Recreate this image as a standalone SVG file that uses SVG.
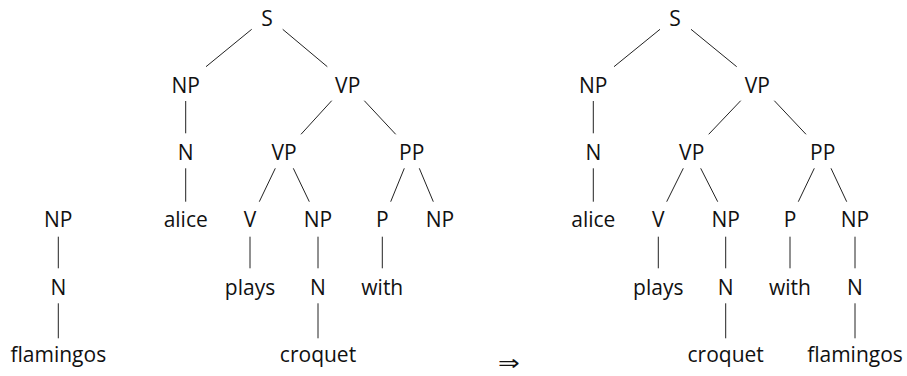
<svg xmlns="http://www.w3.org/2000/svg" width="907" height="376" viewBox="0 0 907 376">
  <style>
    text { font-family: "Open Sans", "Lato", sans-serif; font-size: 21px; fill: #111; text-anchor: middle; }
    .edge { stroke: #222; stroke-width: 1; fill: none; }
  </style>
  <rect width="907" height="376" fill="#fff"/>

  <!-- small tree: NP -> N -> flamingos -->
  <g id="sub-np"><text x="58.3" y="227">NP</text></g>
  <g id="sub-n"><text x="58.3" y="295">N</text></g>
  <g id="sub-flamingos"><text x="58.3" y="362">flamingos</text></g>

  <!-- first tree -->
  <g id="t1-s"><text x="267" y="26">S</text></g>
  <g id="t1-np"><text x="185.7" y="93">NP</text></g>
  <g id="t1-vp"><text x="347.7" y="93">VP</text></g>
  <g id="t1-n"><text x="185.7" y="160">N</text></g>
  <g id="t1-vp2"><text x="284" y="160">VP</text></g>
  <g id="t1-pp"><text x="411.7" y="160">PP</text></g>
  <g id="t1-alice"><text x="185.7" y="227">alice</text></g>
  <g id="t1-v"><text x="250" y="227">V</text></g>
  <g id="t1-np2"><text x="318" y="227">NP</text></g>
  <g id="t1-p"><text x="382.3" y="227">P</text></g>
  <g id="t1-np3"><text x="440" y="227">NP</text></g>
  <g id="t1-plays"><text x="250" y="295">plays</text></g>
  <g id="t1-n2"><text x="318" y="295">N</text></g>
  <g id="t1-with"><text x="382.3" y="295">with</text></g>
  <g id="t1-croquet"><text x="318" y="362">croquet</text></g>

  <!-- rewrite arrow, flattened a little -->
  <g id="arrow" transform="translate(509,370) scale(1,0.8)"><text x="0" y="0" style="font-family: 'DejaVu Sans', sans-serif; font-size: 26px;">⇒</text></g>

  <!-- second tree -->
  <g id="t2-s"><text x="675" y="26">S</text></g>
  <g id="t2-np"><text x="593.3" y="93">NP</text></g>
  <g id="t2-vp"><text x="757.3" y="93">VP</text></g>
  <g id="t2-n"><text x="593.3" y="160">N</text></g>
  <g id="t2-vp2"><text x="691.7" y="160">VP</text></g>
  <g id="t2-pp"><text x="822.7" y="160">PP</text></g>
  <g id="t2-alice"><text x="593.3" y="227">alice</text></g>
  <g id="t2-v"><text x="658.3" y="227">V</text></g>
  <g id="t2-np2"><text x="725.7" y="227">NP</text></g>
  <g id="t2-p"><text x="790" y="227">P</text></g>
  <g id="t2-np3"><text x="855" y="227">NP</text></g>
  <g id="t2-plays"><text x="658.3" y="295">plays</text></g>
  <g id="t2-n2"><text x="725.7" y="295">N</text></g>
  <g id="t2-with"><text x="790" y="295">with</text></g>
  <g id="t2-n3"><text x="855" y="295">N</text></g>
  <g id="t2-croquet"><text x="725.7" y="362">croquet</text></g>
  <g id="t2-flamingos"><text x="855" y="362">flamingos</text></g>

  <g id="connectors" class="edge">
    <!-- small tree -->
    <line x1="58.3" y1="236.7" x2="58.3" y2="268.3"/>
    <line x1="58.3" y1="303.3" x2="58.3" y2="338.3"/>

    <!-- first tree -->
    <line x1="251.7" y1="29.3" x2="206" y2="66.7"/>
    <line x1="282.7" y1="29.3" x2="327.3" y2="66.7"/>
    <line x1="185.7" y1="101" x2="185.7" y2="133.3"/>
    <line x1="331.7" y1="100.7" x2="301" y2="134.3"/>
    <line x1="364.3" y1="100.7" x2="395.7" y2="134.3"/>
    <line x1="185.7" y1="168.3" x2="185.7" y2="201.7"/>
    <line x1="275.3" y1="168.3" x2="259.3" y2="201.7"/>
    <line x1="293.3" y1="168.3" x2="309.3" y2="201.7"/>
    <line x1="404.3" y1="168.3" x2="390.7" y2="201.7"/>
    <line x1="419.3" y1="168.3" x2="433.3" y2="201.7"/>
    <line x1="250" y1="236.7" x2="250" y2="268.3"/>
    <line x1="318" y1="236.7" x2="318" y2="268.3"/>
    <line x1="382.3" y1="236.7" x2="382.3" y2="268.3"/>
    <line x1="318" y1="303.3" x2="318" y2="338.3"/>

    <!-- second tree -->
    <line x1="660" y1="29.3" x2="614" y2="66.7"/>
    <line x1="691" y1="29.3" x2="736.7" y2="66.7"/>
    <line x1="593.3" y1="101" x2="593.3" y2="133.3"/>
    <line x1="740.7" y1="100.7" x2="708.7" y2="134.3"/>
    <line x1="774.3" y1="100.7" x2="806" y2="134.3"/>
    <line x1="593.3" y1="168.3" x2="593.3" y2="201.7"/>
    <line x1="683.3" y1="168.3" x2="666.7" y2="201.7"/>
    <line x1="700.7" y1="168.3" x2="717.7" y2="201.7"/>
    <line x1="814.3" y1="168.3" x2="798.3" y2="201.7"/>
    <line x1="831" y1="168.3" x2="846.7" y2="201.7"/>
    <line x1="658.3" y1="236.7" x2="658.3" y2="268.3"/>
    <line x1="725.7" y1="236.7" x2="725.7" y2="268.3"/>
    <line x1="790" y1="236.7" x2="790" y2="268.3"/>
    <line x1="855" y1="236.7" x2="855" y2="268.3"/>
    <line x1="725.7" y1="303.3" x2="725.7" y2="338.3"/>
    <line x1="855" y1="303.3" x2="855" y2="338.3"/>
  </g>
</svg>
